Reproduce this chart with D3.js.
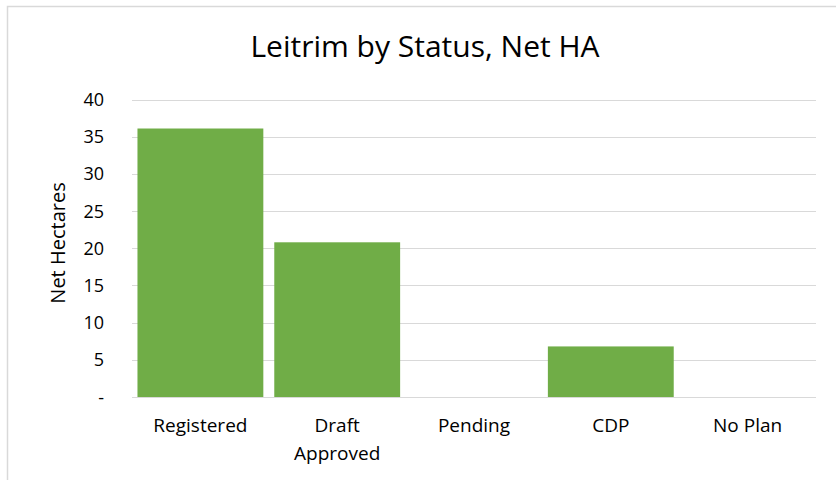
<!DOCTYPE html>
<html>
<head>
<meta charset="utf-8">
<script src="https://cdn.jsdelivr.net/npm/d3@7"></script>
<style>
	body { margin: 0; background: #fff; }
	text { font-family: "Open Sans", "Noto Sans", sans-serif; fill: #000; }
</style>
</head>
<body>
<svg width="836" height="480"></svg>
<script>
const CATEGORIES = [['Registered'], ['Draft', 'Approved'], ['Pending'], ['CDP'], ['No Plan']];
const NET_HA = [36.1, 20.8, 0, 6.8, 0];
const Y_TICKS = [0, 5, 10, 15, 20, 25, 30, 35, 40];

const svg = d3.select('svg');
const MARGIN = { top: 99.5, left: 132, right: 20, bottom: 83 };
const W = 836, H = 480;

// chart border
svg.append('rect')
	.attr('x', 7.5).attr('y', 6.5)
	.attr('width', 840).attr('height', 480)
	.style('fill', 'none').style('stroke', '#d9d9d9').style('stroke-width', 1.5);

const names = CATEGORIES.map(c => c.join(' '));
const x = d3.scaleBand()
	.domain(names)
	.range([MARGIN.left, W - MARGIN.right])
	.paddingInner(0.08).paddingOuter(0.04);
const y = d3.scaleLinear()
	.domain([0, 40])
	.range([H - MARGIN.bottom, MARGIN.top]);

// gridlines
svg.append('g').selectAll('line')
	.data(Y_TICKS)
	.enter().append('line')
		.attr('x1', MARGIN.left).attr('x2', W - MARGIN.right)
		.attr('y1', d => Math.round(y(d)) + 0.5).attr('y2', d => Math.round(y(d)) + 0.5)
		.style('stroke', '#d9d9d9').style('stroke-width', 1.2);

// y tick labels
svg.append('g').selectAll('text')
	.data(Y_TICKS)
	.enter().append('text')
		.attr('x', 104)
		.attr('y', d => y(d) + 6.5)
		.attr('text-anchor', 'end')
		.style('font-size', '18px')
		.text(d => d === 0 ? '-' : d);

// bars
svg.append('g').selectAll('rect')
	.data(NET_HA)
	.enter().append('rect')
		.attr('x', (d, i) => x(names[i]))
		.attr('y', d => y(d))
		.attr('width', x.bandwidth())
		.attr('height', d => y(0) - y(d))
		.style('fill', '#70ad47');

// x labels
const xl = svg.append('g').selectAll('text')
	.data(CATEGORIES)
	.enter().append('text')
		.attr('x', (d, i) => x(names[i]) + x.bandwidth() / 2)
		.attr('y', 432)
		.attr('text-anchor', 'middle')
		.style('font-size', '19px');
xl.selectAll('tspan')
	.data(d => d)
	.enter().append('tspan')
		.attr('x', function () { return this.parentNode.getAttribute('x'); })
		.attr('dy', (d, i) => i === 0 ? 0 : 28)
		.text(d => d);

// title
svg.append('text')
	.attr('x', 425).attr('y', 57)
	.attr('text-anchor', 'middle')
	.style('font-size', '30px')
	.text('Leitrim by Status, Net HA');

// y axis title
svg.append('text')
	.attr('transform', 'translate(65,243) rotate(-90)')
	.attr('text-anchor', 'middle')
	.style('font-size', '20px')
	.text('Net Hectares');
</script>
</body>
</html>
